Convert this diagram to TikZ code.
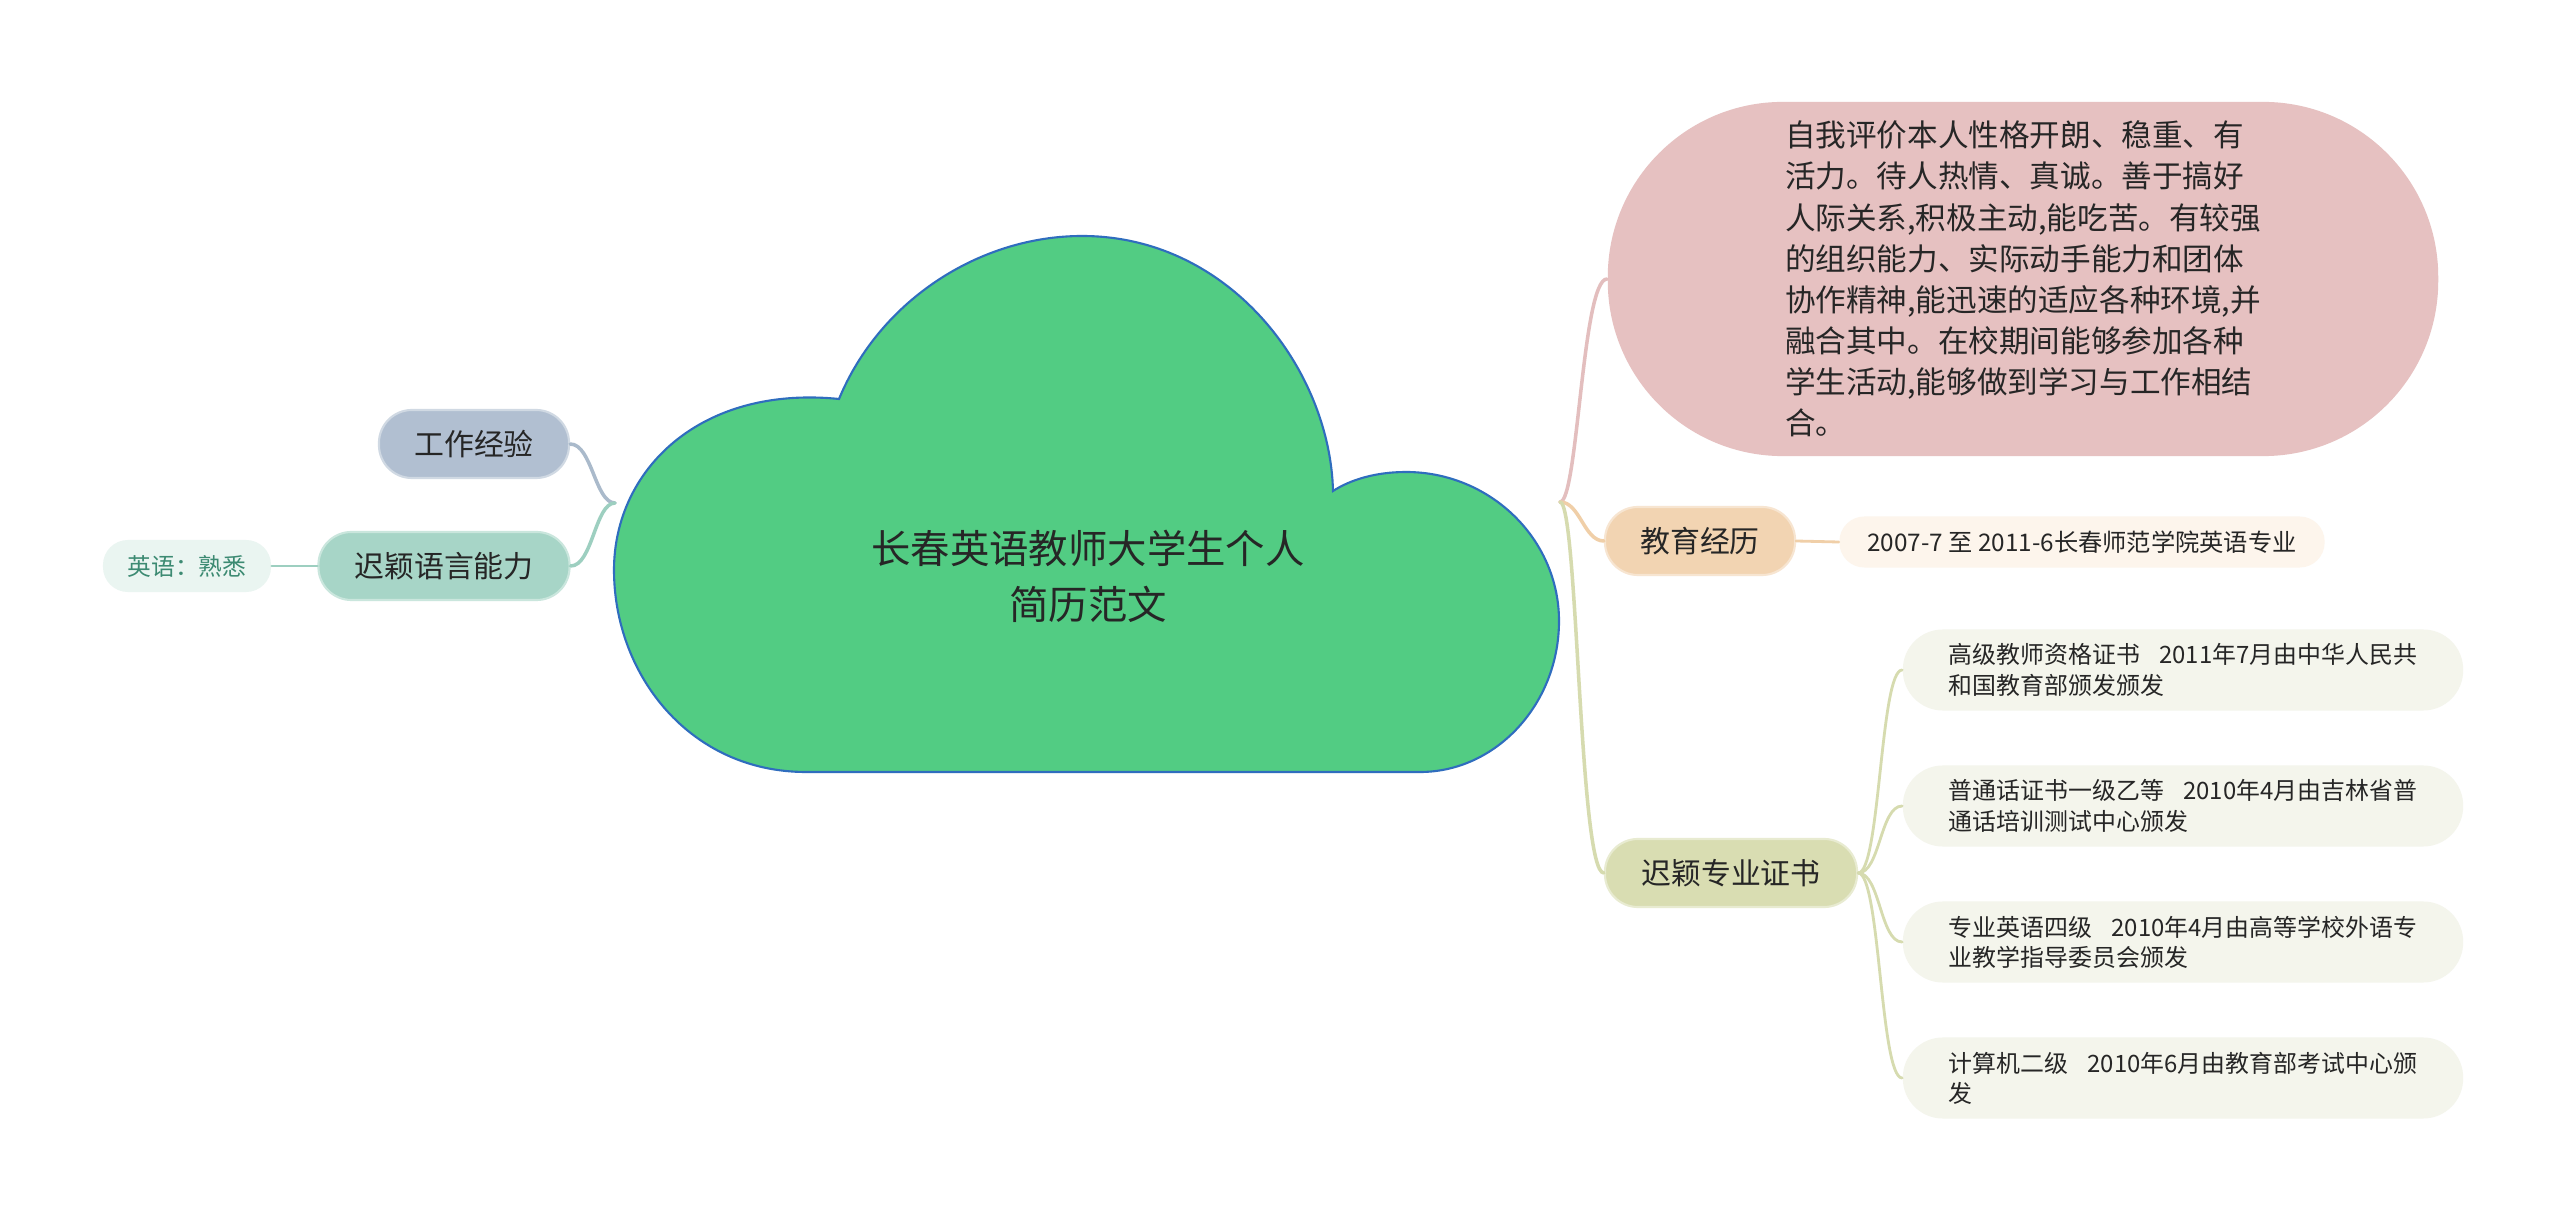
\documentclass[tikz,border=0pt]{standalone}
\usepackage{fontspec}
\setmainfont{Noto Sans CJK SC}
\definecolor{cloudfill}{HTML}{52CC83}
\definecolor{cloudline}{HTML}{2F6DBE}
\definecolor{txt}{HTML}{262626}
\definecolor{pinkfill}{HTML}{E6C1C1}
\definecolor{pinkline}{HTML}{E3BEBE}
\definecolor{peachfill}{HTML}{F2D4B2}
\definecolor{peachline}{HTML}{F0CFA8}
\definecolor{peachleaf}{HTML}{FDF5EC}
\definecolor{olivefill}{HTML}{D9DDB2}
\definecolor{oliveline}{HTML}{D6DBAF}
\definecolor{oliveleaf}{HTML}{F4F5EC}
\definecolor{bluefill}{HTML}{B1BFD1}
\definecolor{blueline}{HTML}{AABACB}
\definecolor{tealfill}{HTML}{A7D5C7}
\definecolor{tealline}{HTML}{9DCFC0}
\definecolor{tealleaf}{HTML}{EAF5F1}
\definecolor{tealtext}{HTML}{3C8A72}
\begin{document}
\begin{tikzpicture}[x=0.01cm,y=-0.01cm,
  box/.style={rectangle, inner sep=0pt, text=txt, align=center},
  branch/.style={box, minimum height=0.68cm, rounded corners=0.33cm,
    font=\fontsize{8.5pt}{11pt}\selectfont},
  certbox/.style={box, align=left, fill=oliveleaf, minimum width=5.6cm,
    minimum height=0.81cm, rounded corners=0.40cm,
    font=\fontsize{6.8pt}{8.6pt}\selectfont},
  conn/.style={line width=1pt, line cap=round},
  leafconn/.style={line width=0.8pt, line cap=round}]
\useasboundingbox (0,0) rectangle (2560,1219);
\fill[white] (0,0) rectangle (2560,1219);
% cloud (central topic)
\path[fill=cloudfill, draw=cloudline, line width=0.6pt]
 (806,772) -- (1420,772)
 .. controls (1496,772) and (1559,704) .. (1559,621)
 .. controls (1559,539) and (1490,472) .. (1406,472)
 .. controls (1375,472) and (1350,480) .. (1333,491)
 .. controls (1330,370) and (1230,236) .. (1082,236)
 .. controls (980,236) and (880,300) .. (839,399)
 .. controls (700,385) and (614,470) .. (614,570)
 .. controls (614,675) and (690,772) .. (806,772) -- cycle;
\node[box, text=txt, font=\fontsize{11.2pt}{16pt}\selectfont] (root) at (1088,576)
  {长春英语教师大学生个人\\简历范文};
\coordinate (rootR) at (1560,502);
\coordinate (rootL) at (615,503);
% right side
\node[box, align=left, fill=pinkfill, minimum width=8.3cm, minimum height=3.54cm,
  rounded corners=1.75cm, font=\fontsize{8.7pt}{11.7pt}\selectfont] (self) at (2023,279)
  {自我评价本人性格开朗、稳重、有\\
   活力。待人热情、真诚。善于搞好\\
   人际关系,积极主动,能吃苦。有较强\\
   的组织能力、实际动手能力和团体\\
   协作精神,能迅速的适应各种环境,并\\
   融合其中。在校期间能够参加各种\\
   学生活动,能够做到学习与工作相结\\
   合。};
\node[branch, fill=peachfill, draw=peachfill!60!white, line width=0.6pt,
  minimum width=1.9cm] (edu) at (1700,541) {教育经历};
\node[box, fill=peachleaf, minimum width=4.85cm, minimum height=0.51cm,
  rounded corners=0.25cm, font=\fontsize{6.9pt}{8.5pt}\selectfont] (eduL) at (2082,542)
  {2007-7 至 2011-6长春师范学院英语专业};
\node[branch, fill=olivefill, draw=olivefill!60!white, line width=0.6pt,
  minimum width=2.52cm] (cert) at (1731,873) {迟颖专业证书};
\node[certbox] (c1) at (2183,670)
  {高级教师资格证书\hspace{0.8em}2011年7月由中华人民共\\和国教育部颁发颁发};
\node[certbox] (c2) at (2183,806)
  {普通话证书一级乙等\hspace{0.8em}2010年4月由吉林省普\\通话培训测试中心颁发};
\node[certbox] (c3) at (2183,942)
  {专业英语四级\hspace{0.8em}2010年4月由高等学校外语专\\业教学指导委员会颁发};
\node[certbox] (c4) at (2183,1078)
  {计算机二级\hspace{0.8em}2010年6月由教育部考试中心颁\\发};
% left side
\node[branch, fill=bluefill, draw=bluefill!60!white, line width=0.6pt,
  minimum width=1.9cm] (work) at (474,444) {工作经验};
\node[branch, fill=tealfill, draw=tealfill!60!white, line width=0.6pt,
  minimum width=2.51cm] (lang) at (444,566) {迟颖语言能力};
\node[box, fill=tealleaf, text=tealtext, minimum width=1.68cm, minimum height=0.52cm,
  rounded corners=0.25cm, font=\fontsize{6.75pt}{8.5pt}\selectfont] (eng) at (187,566)
  {英语：熟悉};
% connectors
\draw[conn, draw=pinkline] (rootR) .. controls +(18,0) and +(-25,0) .. (self.west);
\draw[conn, draw=peachline] (rootR) .. controls +(20,0) and +(-20,0) .. (edu.west);
\draw[conn, draw=oliveline] (rootR) .. controls +(18,0) and +(-25,0) .. (cert.west);
\draw[leafconn, draw=peachline] (edu.east) -- (eduL.west);
\draw[leafconn, draw=oliveline] (cert.east) .. controls +(22,0) and +(-22,0) .. (c1.west);
\draw[leafconn, draw=oliveline] (cert.east) .. controls +(22,0) and +(-22,0) .. (c2.west);
\draw[leafconn, draw=oliveline] (cert.east) .. controls +(22,0) and +(-22,0) .. (c3.west);
\draw[leafconn, draw=oliveline] (cert.east) .. controls +(22,0) and +(-22,0) .. (c4.west);
\draw[conn, draw=blueline] (rootL) .. controls +(-20,0) and +(22,0) .. (work.east);
\draw[conn, draw=tealline] (rootL) .. controls +(-20,0) and +(22,0) .. (lang.east);
\draw[leafconn, draw=tealline] (eng.east) -- (lang.west);
\end{tikzpicture}
\end{document}
